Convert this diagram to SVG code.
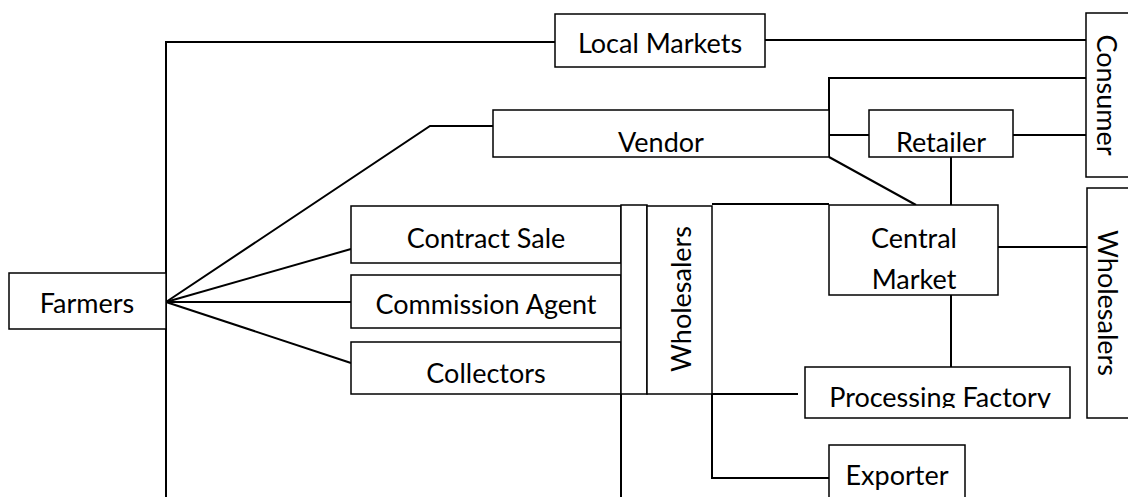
<svg xmlns="http://www.w3.org/2000/svg" width="1128" height="497" viewBox="0 0 1128 497">
  <style>
    .box { fill: #ffffff; stroke: #000000; stroke-width: 1.5; }
    .link { fill: none; stroke: #000000; stroke-width: 2; }
    .lbl { font-family: Lato, "Open Sans", "Liberation Sans", sans-serif; font-size: 27px; fill: #000000; text-anchor: middle; dominant-baseline: central; }
    .lbl-base { dominant-baseline: alphabetic; }
  </style>
  <defs>
    <clipPath id="pfClip">
      <rect x="805" y="367" width="265" height="41"/>
    </clipPath>
  </defs>

  <g id="connectors">
    <!-- Farmers to Local Markets via the long left trunk -->
    <polyline class="link" points="166,497 166,42 555,42"/>
    <!-- Farmers fan-out -->
    <polyline class="link" points="166,302 430,126 493,126"/>
    <line class="link" x1="166" y1="302" x2="351" y2="249"/>
    <line class="link" x1="166" y1="302" x2="351" y2="302"/>
    <line class="link" x1="166" y1="302" x2="351" y2="363"/>
    <!-- Local Markets to Consumer -->
    <line class="link" x1="765" y1="40" x2="1086" y2="40"/>
    <!-- Vendor links -->
    <polyline class="link" points="829,157 829,78 1086,78"/>
    <line class="link" x1="829" y1="135" x2="869" y2="135"/>
    <line class="link" x1="829" y1="157" x2="916" y2="205"/>
    <!-- Retailer links -->
    <line class="link" x1="1013" y1="135" x2="1086" y2="135"/>
    <line class="link" x1="951" y1="157" x2="951" y2="205"/>
    <!-- Central Market links -->
    <line class="link" x1="998" y1="247" x2="1087" y2="247"/>
    <line class="link" x1="951" y1="295" x2="951" y2="367"/>
    <!-- Wholesalers top run to Central Market -->
    <line class="link" x1="712" y1="204" x2="829" y2="204"/>
    <!-- Below the wholesalers -->
    <line class="link" x1="621" y1="394" x2="621" y2="497"/>
    <polyline class="link" points="712,394 712,478 829,478"/>
    <line class="link" x1="712" y1="394" x2="798" y2="394"/>
  </g>

  <g id="farmers">
    <rect class="box" x="9" y="273" width="157" height="56"/>
    <text class="lbl" x="87" y="302">Farmers</text>
  </g>
  <g id="local-markets">
    <rect class="box" x="555" y="14" width="210" height="53"/>
    <text class="lbl" x="660" y="42">Local Markets</text>
  </g>
  <g id="consumer">
    <rect class="box" x="1086" y="13" width="44" height="164"/>
    <text class="lbl" transform="translate(1107,95) rotate(90)">Consumer</text>
  </g>
  <g id="vendor">
    <rect class="box" x="493" y="110" width="336" height="47"/>
    <text class="lbl" x="661" y="141">Vendor</text>
  </g>
  <g id="retailer">
    <rect class="box" x="869" y="110" width="144" height="47"/>
    <text class="lbl" x="941" y="141">Retailer</text>
  </g>
  <g id="contract-sale">
    <rect class="box" x="351" y="206" width="270" height="57"/>
    <text class="lbl" x="486" y="237">Contract Sale</text>
  </g>
  <g id="commission-agent">
    <rect class="box" x="351" y="275" width="270" height="53"/>
    <text class="lbl" x="486" y="303">Commission Agent</text>
  </g>
  <g id="collectors">
    <rect class="box" x="351" y="342" width="270" height="52"/>
    <text class="lbl" x="486" y="372">Collectors</text>
  </g>
  <g id="wholesalers-strip">
    <rect class="box" x="621" y="205" width="26" height="189"/>
  </g>
  <g id="wholesalers">
    <rect class="box" x="647" y="206" width="65" height="188"/>
    <text class="lbl" transform="translate(680,299) rotate(-90)">Wholesalers</text>
  </g>
  <g id="central-market">
    <rect class="box" x="829" y="205" width="169" height="90"/>
    <text class="lbl" x="914" y="237">Central</text>
    <text class="lbl" x="914" y="278">Market</text>
  </g>
  <g id="wholesalers-right">
    <rect class="box" x="1087" y="188" width="43" height="230"/>
    <text class="lbl" transform="translate(1108,303) rotate(90)">Wholesalers</text>
  </g>
  <g id="processing-factory">
    <rect class="box" x="805" y="367" width="265" height="51"/>
    <text class="lbl lbl-base" x="940" y="407" clip-path="url(#pfClip)">Processing Factory</text>
  </g>
  <g id="exporter">
    <rect class="box" x="829" y="445" width="136" height="60"/>
    <text class="lbl" x="897" y="474">Exporter</text>
  </g>
</svg>
